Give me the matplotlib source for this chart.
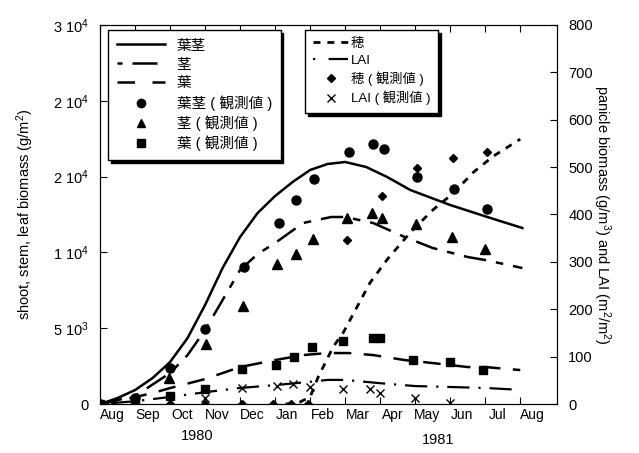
import matplotlib
matplotlib.use("Agg")
import matplotlib.pyplot as plt
from matplotlib.lines import Line2D

plt.rcParams['font.family'] = ['Liberation Sans', 'Noto Sans CJK JP', 'DejaVu Sans']
plt.rcParams['mathtext.fontset'] = 'custom'
plt.rcParams['mathtext.rm'] = 'Liberation Sans'
plt.rcParams['mathtext.it'] = 'Liberation Sans:italic'

# x = months since 1 Aug 1980
months = ['Aug', 'Sep', 'Oct', 'Nov', 'Dec', 'Jan', 'Feb', 'Mar', 'Apr', 'May', 'Jun', 'Jul', 'Aug']

# --- model curves (left axis, g/m2) ---
shoot_m = [0, 0.5, 1, 1.5, 2, 2.5, 3, 3.5, 4, 4.5, 5, 5.5, 6, 6.5, 7, 7.6, 8.2, 8.86, 10, 11.06, 12.06]
shoot_v = [0, 396, 923, 1715, 2770, 4353, 6530, 8970, 11015, 12598, 13720, 14643, 15435, 15831,
           15962, 15633, 14973, 14115, 13126, 12335, 11609]
stem_m = [0, 1, 2, 2.5, 3, 3.5, 4, 4.5, 5, 5.8, 6.6, 7, 7.8, 8.7, 9.5, 10.5, 11, 12.06]
stem_v = [0, 528, 2045, 3232, 4881, 6860, 8839, 9894, 10620, 11939, 12335, 12335, 11939, 11015,
          10290, 9696, 9498, 8970]
leaf_m = [0, 1, 1.5, 2, 3, 4, 5, 5.8, 6.5, 7.1, 7.8, 8.7, 9.5, 10.5, 11, 12]
leaf_v = [0, 462, 726, 1055, 1649, 2441, 2902, 3232, 3364, 3364, 3232, 2902, 2704, 2441, 2441, 2243]

# --- model curves (right axis) ---
panicle_m = [5.3, 5.7, 6.0, 6.23, 6.66, 6.94, 7.34, 7.71, 8.2, 8.86, 9.51, 10.09, 10.66, 11.23, 12.0]
panicle_v = [0, 4, 15, 57, 121, 150, 205, 256, 305, 362, 410, 445, 489, 523, 559]
lai_m = [0, 1, 2, 3, 4, 5, 6, 6.5, 7, 8, 9, 10, 11, 12]
lai_v = [0, 6, 15, 25, 34, 40, 47, 51, 51, 44, 38, 36, 34, 30]

# --- observations (left axis) ---
shoot_obs_m = [0, 1.0, 2.0, 3.0, 4.1, 5.1, 5.6, 6.1, 7.1, 7.8, 8.1, 9.05, 10.1, 11.05]
shoot_obs_v = [0, 396, 2375, 4947, 9037, 11939, 13456, 14841, 16622, 17150, 16820, 14973, 14181, 12862]
stem_obs_m = [0, 1.0, 1.97, 3.03, 4.09, 5.06, 5.6, 6.09, 7.06, 7.77, 8.06, 9.03, 10.06, 11.0]
stem_obs_v = [0, 200, 1715, 3958, 6464, 9234, 9894, 10883, 12268, 12600, 12268, 11873, 11015, 10224]
leaf_obs_m = [0, 1.0, 2.0, 3.0, 4.06, 5.03, 5.54, 6.06, 6.94, 7.8, 8.0, 8.94, 10.0, 10.94]
leaf_obs_v = [0, 200, 528, 989, 2309, 2572, 3100, 3760, 4155, 4353, 4353, 2902, 2770, 2243]

# --- observations (right axis) ---
panicle_obs_m = [0, 1, 2, 3, 4.05, 4.95, 5.45, 5.95, 7.06, 8.06, 9.06, 10.09, 11.06]
panicle_obs_v = [0, 0, 0, 0, 0, 0, 0, 0, 347, 438, 499, 519, 531]
lai_obs_m = [3.0, 4.06, 5.06, 5.5, 6.0, 6.94, 7.7, 8.0, 9.0, 10.0]
lai_obs_v = [12, 34, 38, 42, 36, 32, 32, 23, 13, 2]

left_ticks = [0, 5000, 10000, 15000, 20000, 25000]
left_labels = ['0', r'5 10$^3$', r'1 10$^4$', r'2 10$^4$', r'2 10$^4$', r'3 10$^4$']

fig = plt.figure(figsize=(6.39, 4.53), dpi=100)
ax = fig.add_axes([0.1565, 0.108, 0.7152, 0.837])
ax2 = ax.twinx()

k = 'black'
ax.plot(shoot_m, shoot_v, color=k, lw=1.8, ls='-')
ax.plot(stem_m, stem_v, color=k, lw=1.8, ls=(0, (9, 4, 3, 4)))
ax.plot(leaf_m, leaf_v, color=k, lw=1.8, ls=(0, (7, 5)))
ax.plot(shoot_obs_m, shoot_obs_v, 'o', color=k, ms=6.5)
ax.plot(stem_obs_m, stem_obs_v, '^', color=k, ms=6.5)
ax.plot(leaf_obs_m, leaf_obs_v, 's', color=k, ms=6)

ax2.plot(panicle_m, panicle_v, color=k, lw=2, ls=(0, (2.5, 2.5)))
ax2.plot(lai_m, lai_v, color=k, lw=1.6, ls=(0, (1, 4, 10, 4)))
ax2.plot(panicle_obs_m, panicle_obs_v, 'D', color=k, ms=4.5)
ax2.plot(lai_obs_m, lai_obs_v, 'x', color=k, ms=6, mew=1)

ax.set_xlim(0, 13.05)
ax.set_ylim(0, 25000)
ax2.set_ylim(0, 800)

ax.set_yticks(left_ticks)
ax.set_yticklabels(left_labels)
ax2.set_yticks(range(0, 801, 100))

ax.set_xticks(range(13))
ax.set_xticklabels([''] * 13)
ax.set_xticks([i + 0.35 for i in range(13)], minor=True)
ax.set_xticklabels(months, minor=True)
ax.tick_params(axis='x', which='minor', length=0, pad=3)
ax.tick_params(axis='x', which='major', direction='in', length=5, top=True)
ax.tick_params(axis='y', direction='in', length=5, pad=8)
ax2.tick_params(axis='y', direction='in', length=5, pad=8)
for a in (ax, ax2):
    a.tick_params(labelsize=10.5)

ax.set_ylabel('shoot, stem, leaf biomass (g/m$^2$)', fontsize=10.5, labelpad=12)
ax2.set_ylabel('panicle biomass (g/m$^3$) and LAI (m$^2$/m$^2$)', fontsize=10.5,
               rotation=270, labelpad=14)

tr = ax.get_xaxis_transform()
ax.text(2.77, -0.085, '1980', transform=tr, ha='center', va='center', fontsize=10.5)
ax.text(9.66, -0.095, '1981', transform=tr, ha='center', va='center', fontsize=10.5)

h1 = [Line2D([], [], color=k, lw=1.8, ls='-'),
      Line2D([], [], color=k, lw=1.8, ls=(0, (2, 4, 10, 4))),
      Line2D([], [], color=k, lw=1.8, ls=(0, (7, 7))),
      Line2D([], [], color=k, ls='none', marker='o', ms=6),
      Line2D([], [], color=k, ls='none', marker='^', ms=6),
      Line2D([], [], color=k, ls='none', marker='s', ms=5.5)]
l1 = ['葉茎', '茎', '葉', '葉茎 ( 観測値 )', '茎 ( 観測値 )', '葉 ( 観測値 )']
h2 = [Line2D([], [], color=k, lw=2, ls=(0, (2.5, 2.5))),
      Line2D([], [], color=k, lw=1.6, ls=(0, (1, 6, 9, 4))),
      Line2D([], [], color=k, ls='none', marker='D', ms=4.5),
      Line2D([], [], color=k, ls='none', marker='x', ms=6)]
l2 = ['穂', 'LAI', '穂 ( 観測値 )', 'LAI ( 観測値 )']

shadow = {'color': 'black', 'alpha': 1}
leg1 = ax2.legend(h1, l1, loc='upper left', bbox_to_anchor=(0.0175, 0.987), borderaxespad=0,
                  fontsize=10.5, frameon=True, fancybox=False, shadow=shadow,
                  edgecolor='black', framealpha=1, handlelength=3.3, borderpad=0.6,
                  labelspacing=0.33, handletextpad=0.8)
leg1.get_frame().set_linewidth(1.0)
ax2.add_artist(leg1)
leg2 = ax2.legend(h2, l2, loc='upper left', bbox_to_anchor=(0.449, 0.987), borderaxespad=0,
                  fontsize=9.5, frameon=True, fancybox=False, shadow=shadow,
                  edgecolor='black', framealpha=1, handlelength=2.65, borderpad=0.6,
                  labelspacing=0.35, handletextpad=0.2)
leg2.get_frame().set_linewidth(1.0)

fig.savefig('out.png', dpi=100)
